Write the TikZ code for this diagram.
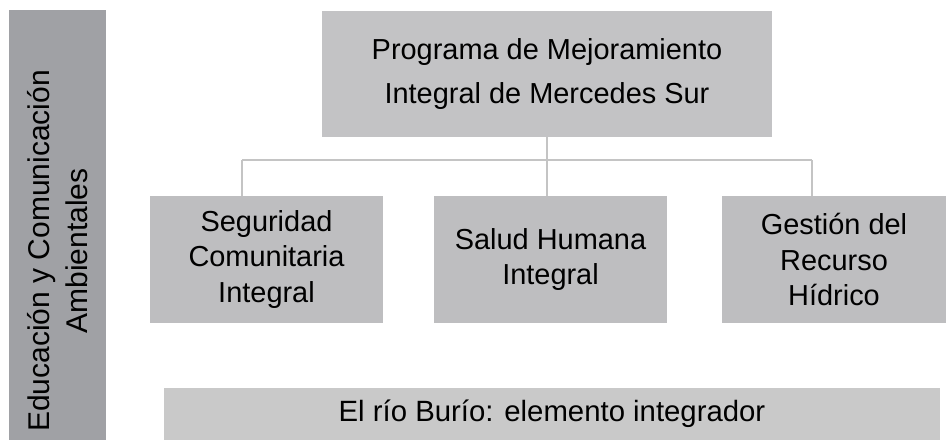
\documentclass[tikz,border=0pt]{standalone}
\usepackage{fontspec}
\setmainfont{Liberation Sans}
\usepackage{tikz}
\usetikzlibrary{positioning,calc}

\definecolor{barGray}{HTML}{A0A1A5}
\definecolor{topGray}{HTML}{C3C3C5}
\definecolor{boxGray}{HTML}{BEBEC0}
\definecolor{baseGray}{HTML}{C9C9C9}
\definecolor{lineGray}{HTML}{C4C4C4}

\tikzset{
  areabox/.style={fill=boxGray, draw=none, align=center, inner sep=0pt,
    minimum height=95.25pt, font=\fontsize{21.7}{26.6}\selectfont},
  link/.style={draw=lineGray, line width=2pt}
}

\begin{document}
\begin{tikzpicture}[x=0.75pt, y=-0.75pt]
            % Canvas
            \useasboundingbox (0,0) rectangle (946,443);
            % Side bar
            \node[fill=barGray, inner sep=0pt, minimum width=72.75pt,
              minimum height=322.5pt] (edu) at (57.5,225) {};
            \node[rotate=90, align=center, inner sep=0pt,
              font=\fontsize{22.5}{28.5}\selectfont]
              (edutext) at ($(edu.center)+(0,26)$) {Educación y Comunicación\\Ambientales};
            % Main program
            \node[fill=topGray, align=center, inner sep=0pt,
              minimum width=337.5pt, minimum height=94.5pt,
              font=\fontsize{21.7}{33}\selectfont]
              (prog) at (547,74) {Programa de Mejoramiento\\Integral de Mercedes Sur};
            % Areas
            \node[areabox, minimum width=174.75pt] (seg) at (266.5,259.5)
              {Seguridad\\Comunitaria\\Integral};
            \node[areabox, minimum width=174.75pt] (sal) at (550.5,259.5)
              {Salud Humana\\Integral};
            \node[areabox, minimum width=168pt] (ges) at (834,259.5)
              {Gestión del\\Recurso\\Hídrico};
            % Base
            \node[fill=baseGray, inner sep=0pt, minimum width=582pt,
              minimum height=39pt, font=\fontsize{22}{27}\selectfont]
              (rio) at (552,414) {El río Burío: elemento integrador};
            % Connectors
            \coordinate (jl) at (242,160);
            \coordinate (jr) at (812,160);
            \draw[link] (jl) -- (jr);
            \draw[link] (prog.south) -- (prog.south |- sal.north);
            \draw[link] (jl) -- (jl |- seg.north);
            \draw[link] (jr) -- (jr |- ges.north);
\end{tikzpicture}
\end{document}
